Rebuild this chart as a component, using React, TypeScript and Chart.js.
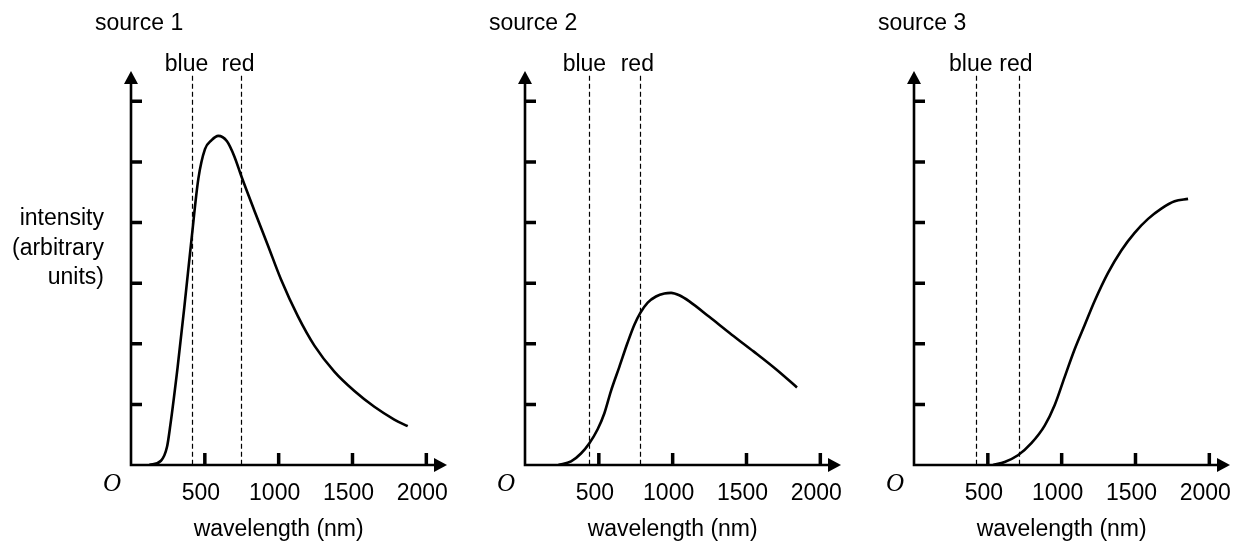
import React, { useEffect, useRef } from "react";
import { Chart, registerables } from "chart.js";

Chart.register(...registerables);

// ---- data ----
const source1Wavelength = [124, 203, 244, 266, 316, 361, 411, 456, 501, 546, 591, 650, 700, 745, 835, 926, 1016, 1129, 1242, 1377, 1513, 1648, 1783, 1874];
const source1Intensity = [0, 0.07, 0.3, 0.65, 1.62, 2.6, 3.75, 4.72, 5.21, 5.36, 5.43, 5.34, 5.09, 4.78, 4.2, 3.63, 3.06, 2.46, 1.97, 1.54, 1.22, 0.96, 0.75, 0.64];

const source2Wavelength = [226, 312, 379, 436, 492, 537, 582, 639, 695, 740, 781, 831, 887, 944, 989, 1045, 1113, 1250, 1400, 1550, 1700, 1842];
const source2Intensity = [0, 0.06, 0.19, 0.36, 0.59, 0.85, 1.22, 1.62, 2.02, 2.31, 2.51, 2.68, 2.78, 2.83, 2.84, 2.8, 2.7, 2.44, 2.15, 1.87, 1.58, 1.28];

const source3Wavelength = [535, 614, 704, 795, 885, 953, 1020, 1088, 1156, 1224, 1314, 1404, 1494, 1585, 1675, 1765, 1856];
const source3Intensity = [0, 0.05, 0.16, 0.36, 0.65, 0.99, 1.45, 1.91, 2.31, 2.71, 3.17, 3.54, 3.83, 4.06, 4.23, 4.35, 4.39];

const sourceTitles = ["source 1", "source 2", "source 3"];
const blueLine = [410, 436, 418];
const redLine = [745, 781, 711];

const xTickValues = [500, 1000, 1500, 2000];
const xTickLabels = ["500", "1000", "1500", "2000"];
const yTickValues = [1, 2, 3, 4, 5, 6];
const xMax = 2140;
const yMax = 6.5;
const xTitle = "wavelength (nm)";
const yTitleLines = ["intensity", "(arbitrary", "units)"];

// ---- layout (page pixels) ----
const PAGE_W = 1246;
const PAGE_H = 548;
const canvasLeft = [0, 470, 860];
const canvasWidth = [470, 390, 386];
const originX = [131, 525, 914];
const axisLength = 316;
const plotTop = 71;
const plotBottom = 465;

const SANS = '"Liberation Sans", Arial, sans-serif';
const SERIF = '"Liberation Serif", "Times New Roman", serif';

const seriesX = [source1Wavelength, source2Wavelength, source3Wavelength];
const seriesY = [source1Intensity, source2Intensity, source3Intensity];

function makeDecor(i: number) {
  return {
    id: "decor" + i,
    beforeDatasetsDraw(chart: any) {
      const { ctx, scales } = chart;
      const x = scales.x;
      const y = scales.y;
      const y0 = y.getPixelForValue(0);
      ctx.save();
      ctx.strokeStyle = "#000";
      ctx.lineWidth = 1.2;
      ctx.setLineDash([5, 3]);
      for (const v of [blueLine[i], redLine[i]]) {
        const px = Math.round(x.getPixelForValue(v)) + 0.5;
        ctx.beginPath();
        ctx.moveTo(px, y.getPixelForValue(6.42));
        ctx.lineTo(px, y0);
        ctx.stroke();
      }
      ctx.restore();
    },
    afterDatasetsDraw(chart: any) {
      const { ctx, chartArea: a, scales } = chart;
      const x = scales.x;
      const y = scales.y;
      const x0 = x.getPixelForValue(0);
      const y0 = y.getPixelForValue(0);
      ctx.save();
      ctx.strokeStyle = "#000";
      ctx.fillStyle = "#000";
      ctx.setLineDash([]);
      // axes
      ctx.lineWidth = 2.6;
      ctx.beginPath();
      ctx.moveTo(x0, y0 + 1.3);
      ctx.lineTo(x0, a.top + 12);
      ctx.moveTo(x0 - 1.3, y0);
      ctx.lineTo(a.right - 12, y0);
      ctx.stroke();
      // arrows
      ctx.beginPath();
      ctx.moveTo(x0, a.top);
      ctx.lineTo(x0 - 7, a.top + 13);
      ctx.lineTo(x0 + 7, a.top + 13);
      ctx.closePath();
      ctx.fill();
      ctx.beginPath();
      ctx.moveTo(a.right, y0);
      ctx.lineTo(a.right - 13, y0 - 7);
      ctx.lineTo(a.right - 13, y0 + 7);
      ctx.closePath();
      ctx.fill();
      // tick marks (inside)
      ctx.lineWidth = 3.5;
      ctx.beginPath();
      for (const v of yTickValues) {
        const py = y.getPixelForValue(v);
        ctx.moveTo(x0, py);
        ctx.lineTo(x0 + 11, py);
      }
      for (const v of xTickValues) {
        const px = x.getPixelForValue(v);
        ctx.moveTo(px, y0);
        ctx.lineTo(px, y0 - 12);
      }
      ctx.stroke();

      // texts
      ctx.font = `23px ${SANS}`;
      ctx.textBaseline = "alphabetic";
      ctx.textAlign = "center";
      xTickValues.forEach((v, k) => {
        ctx.fillText(xTickLabels[k], x.getPixelForValue(v) - 4, y0 + 35);
      });
      ctx.fillText(xTitle, x.getPixelForValue(1000), y0 + 71);
      ctx.fillText("blue", x.getPixelForValue(blueLine[i]) - 5, a.top);
      ctx.fillText("red", x.getPixelForValue(redLine[i]) - 3, a.top);
      ctx.textAlign = "left";
      ctx.fillText(sourceTitles[i], x0 - 36, a.top - 41);
      if (i === 0) {
        ctx.textAlign = "right";
        const base = [-240, -210, -181];
        yTitleLines.forEach((t, k) => ctx.fillText(t, x0 - 27, y0 + base[k]));
      }
      ctx.font = `italic 25px ${SERIF}`;
      ctx.textAlign = "center";
      ctx.textBaseline = "middle";
      ctx.fillText("O", x0 - 19, y0 + 19);
      ctx.restore();
    },
  };
}

function Panel({ i }: { i: number }) {
  const ref = useRef<HTMLCanvasElement | null>(null);
  useEffect(() => {
    if (!ref.current) return;
    const left = canvasLeft[i];
    const w = canvasWidth[i];
    const padLeft = originX[i] - left;
    const padRight = w - (originX[i] + axisLength - left);
    const chart = new Chart(ref.current, {
      type: "line",
      data: {
        datasets: [
          {
            data: seriesX[i].map((xv, k) => ({ x: xv, y: seriesY[i][k] })),
            borderColor: "#000",
            borderWidth: 2.6,
            pointRadius: 0,
            fill: false,
            cubicInterpolationMode: "monotone",
          },
        ],
      },
      options: {
        responsive: false,
        animation: false,
        events: [],
        layout: {
          padding: { left: padLeft, right: padRight, top: plotTop, bottom: PAGE_H - plotBottom },
        },
        plugins: {
          legend: { display: false },
          title: { display: false },
          tooltip: { enabled: false },
        },
        scales: {
          x: { type: "linear", min: 0, max: xMax, display: false },
          y: { type: "linear", min: 0, max: yMax, display: false },
        },
      } as any,
      plugins: [makeDecor(i)],
    });
    return () => chart.destroy();
  }, [i]);
  return (
    <canvas
      ref={ref}
      width={canvasWidth[i]}
      height={PAGE_H}
      style={{
        position: "absolute",
        left: canvasLeft[i],
        top: 0,
        width: canvasWidth[i],
        height: PAGE_H,
      }}
    />
  );
}

export default function App() {
  return (
    <div
      style={{
        position: "fixed",
        left: 0,
        top: 0,
        width: PAGE_W,
        height: PAGE_H,
        background: "#fff",
        overflow: "hidden",
      }}
    >
      <Panel i={0} />
      <Panel i={1} />
      <Panel i={2} />
    </div>
  );
}
